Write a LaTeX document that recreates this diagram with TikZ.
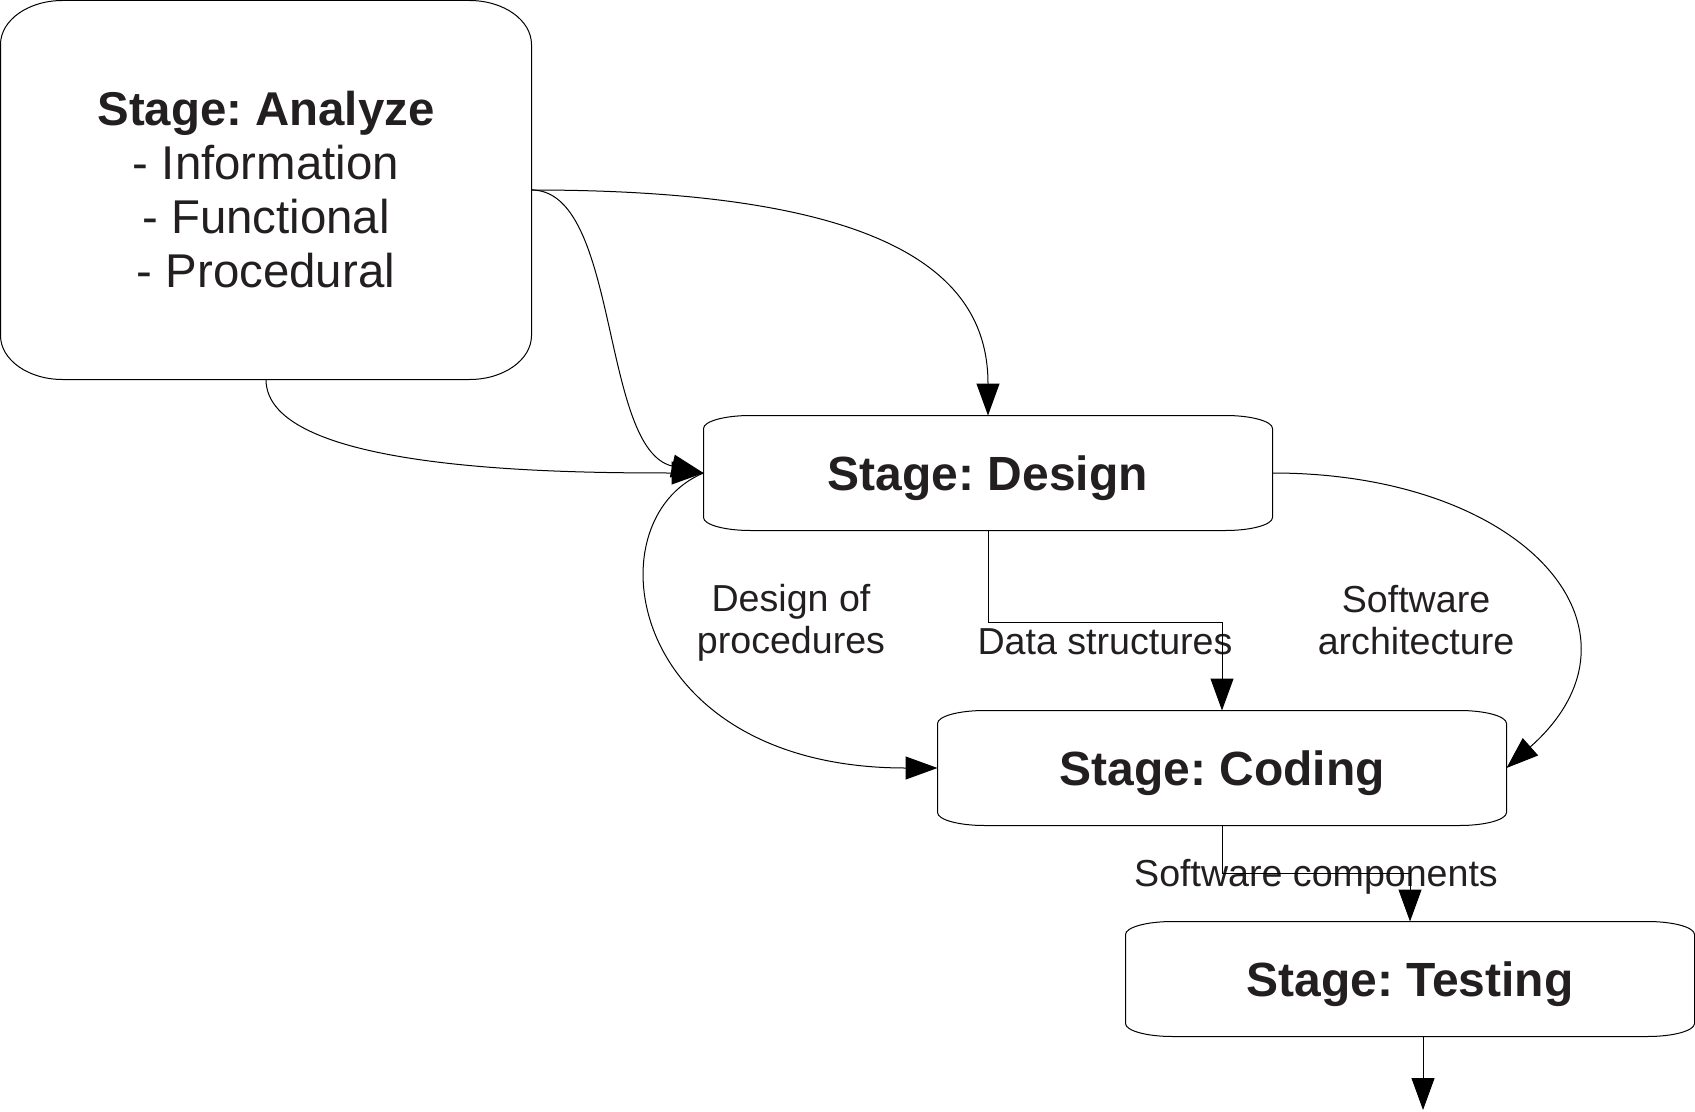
\documentclass[tikz,border=0pt]{standalone}
\usepackage{fontspec}
\setmainfont{Liberation Sans}
\usetikzlibrary{arrows.meta}
\definecolor{ink}{HTML}{231F20}
\frenchspacing

\begin{document}
\begin{tikzpicture}[x=0.5pt, y=-0.5pt, line width=0.5pt,
  every node/.style={inner sep=0pt, text=ink},
  stage/.style={minimum width=284pt, minimum height=57pt, text depth=0pt, font=\fontsize{24pt}{27pt}\selectfont\bfseries},
  lbl/.style={align=center, font=\fontsize{18.8pt}{21pt}\selectfont},
  flow/.style={-{Triangle[length=16pt,width=11.5pt]}}]

\useasboundingbox (0,0) rectangle (1695,1112);

\node[minimum width=265pt, minimum height=189pt, align=center, font=\fontsize{23.7pt}{27pt}\selectfont] (analyze) at (266,190) {\textbf{Stage: Analyze}\\- Information\\- Functional\\- Procedural};

\node[stage] (design) at (988,473) {Stage: Design};
\node[stage] (coding) at (1222,768) {Stage: Coding};
\node[stage] (testing) at (1410,979) {Stage: Testing};
\coordinate (exit) at (1423,1110);

\foreach \n/\rx/\ry in {analyze/31pt/22pt, design/23.5pt/6.5pt, coding/23.5pt/6.5pt, testing/23.5pt/6.5pt}
  \draw ([xshift=\rx]\n.north west) -- ([xshift=-\rx]\n.north east)
    arc[start angle=90, end angle=0, x radius=\rx, y radius=\ry]
    -- ([yshift=\ry]\n.south east)
    arc[start angle=0, end angle=-90, x radius=\rx, y radius=\ry]
    -- ([xshift=\rx]\n.south west)
    arc[start angle=270, end angle=180, x radius=\rx, y radius=\ry]
    -- ([yshift=-\ry]\n.north west)
    arc[start angle=180, end angle=90, x radius=\rx, y radius=\ry];

\node[lbl] (procs) at (791,623) {Design of\\procedures};
\node[lbl] (datas) at (1105,642) {Data structures};
\node[lbl] (arch) at (1416,620) {Software\\architecture};
\node[lbl] (comps) at (1316,877) {Software components};

\draw[flow] (analyze.east) .. controls (900,190) and (988,280) .. (design.north);
\draw[flow] (analyze.east) .. controls (620,190) and (600,450) .. (design.west);
\draw[flow] (analyze.south) .. controls (266,470) and (550,473) .. (design.west);
\draw[flow] (design.west) .. controls (590,520) and (625,768) .. (coding.west);
\draw[flow] (design.east) .. controls (1525,473) and (1662,630) .. (coding.east);
\draw[flow] (design.south) -- ++(0,92) -| (coding.north);
\draw[flow] (coding.south) -- ++(0,48) -| (testing.north);
\draw[flow] (exit |- testing.south) -- (exit);

\end{tikzpicture}
\end{document}
